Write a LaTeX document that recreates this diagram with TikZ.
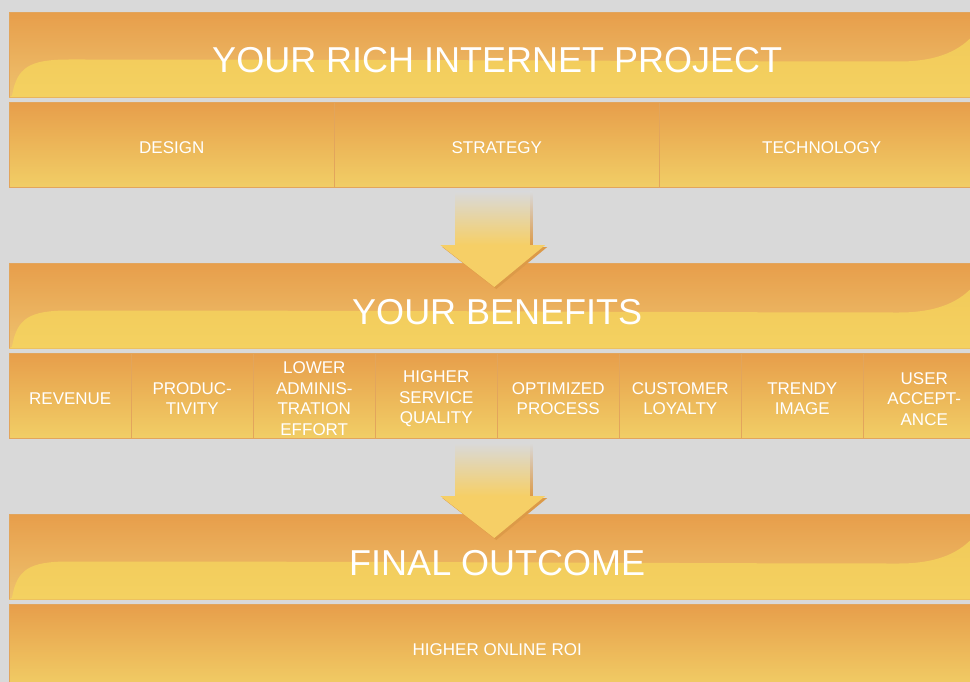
\documentclass[tikz,border=0pt]{standalone}
\usepackage{fontspec}
\setmainfont{Liberation Sans}
\usetikzlibrary{calc}

\definecolor{bggray}{HTML}{D9D9D9}
\definecolor{ortop}{HTML}{E79E4B}
\definecolor{orlow}{HTML}{EEC26E}
\definecolor{yebot}{HTML}{F1CE66}
\definecolor{wavetop}{HTML}{F1C857}
\definecolor{wavebot}{HTML}{F4D161}
\definecolor{rim}{HTML}{E2A55C}
\definecolor{arrowye}{HTML}{F6CF66}
\definecolor{arrowsh}{HTML}{DC9A48}

\begin{document}
\begin{tikzpicture}[x=1pt, y=-1pt,
every node/.style={inner sep=1pt, text=white, align=center,
    font=\fontsize{17}{20.5}\selectfont},
banner/.style={anchor=north west, minimum width=976pt, minimum height=85pt,
    draw=rim, line width=0.5pt, top color=ortop, bottom color=orlow},
cell/.style={anchor=north west, minimum height=85pt,
    draw=rim, line width=0.5pt, top color=ortop, bottom color=yebot},
title/.style={anchor=base, font=\fontsize{36}{40}\selectfont}
]
\useasboundingbox (0,0) rectangle (970,682);
\clip (0,0) rectangle (970,682);
\fill[bggray] (0,0) rectangle (970,682);

\foreach \n/\y/\t in {p1/12/YOUR RICH INTERNET PROJECT,
                      p2/263/YOUR BENEFITS,
                      p3/514/FINAL OUTCOME}{
    \node[banner] (\n) at (9,\y) {};
    \begin{scope}[shift={(\n.south west)}]
    \shade[top color=wavetop, bottom color=wavebot] (0,0) -- (3,-2)
        .. controls (8,-30) and (20,-38) .. (60,-38)
        .. controls (400,-38) and (700,-36) .. (890,-36)
        .. controls (925,-36) and (948,-45) .. (963,-61)
        -- (976,-85) -- (976,0) -- cycle;
    \end{scope}
    \node[title] (\n-t) at ($(\n.north)+(0,61)$) {\t};
}

\foreach \i/\t in {1/DESIGN, 2/STRATEGY, 3/TECHNOLOGY}{
    \node[cell, minimum width=325pt] (s-\i) at ({9+325*(\i-1)},102) {};
    \node (s-\i-l) at ($(s-\i.center)+(0,3)$) {\t};
}

\foreach \i/\t in {1/REVENUE, 2/{PRODUC-\\TIVITY},
                   3/{LOWER\\ADMINIS-\\TRATION\\EFFORT},
                   4/{HIGHER\\SERVICE\\QUALITY}, 5/{OPTIMIZED\\PROCESS},
                   6/{CUSTOMER\\LOYALTY}, 7/{TRENDY\\IMAGE},
                   8/{USER\\ACCEPT-\\ANCE}}{
    \node[cell, minimum width=122pt] (b-\i) at ({9+122*(\i-1)},353) {};
    \node (b-\i-l) at ($(b-\i.center)+(0,3)$) {\t};
}

\node[cell, minimum width=976pt] (r-1) at (9,604) {};
\node (r-1-l) at ($(r-1.center)+(0,3)$) {HIGHER ONLINE ROI};

\foreach \n in {p2,p3}{
    \shade[top color=bggray, bottom color=arrowsh]
        ($(\n.north)+(-40,-71)$) rectangle ($(\n.north)+(35,-18)$);
    \shade[top color=bggray, bottom color=arrowye]
        ($(\n.north)+(-42,-71)$) rectangle ($(\n.north)+(32,-18)$);
    \fill[arrowsh] ($(\n.north)+(-55,-16)$) -- ($(\n.north)+(50,-16)$)
        -- ($(\n.north)+(-1,26)$) -- cycle;
    \fill[arrowye] ($(\n.north)+(-57,-18)$) -- ($(\n.north)+(48,-18)$)
        -- ($(\n.north)+(-3,24)$) -- cycle;
}
\end{tikzpicture}
\end{document}
